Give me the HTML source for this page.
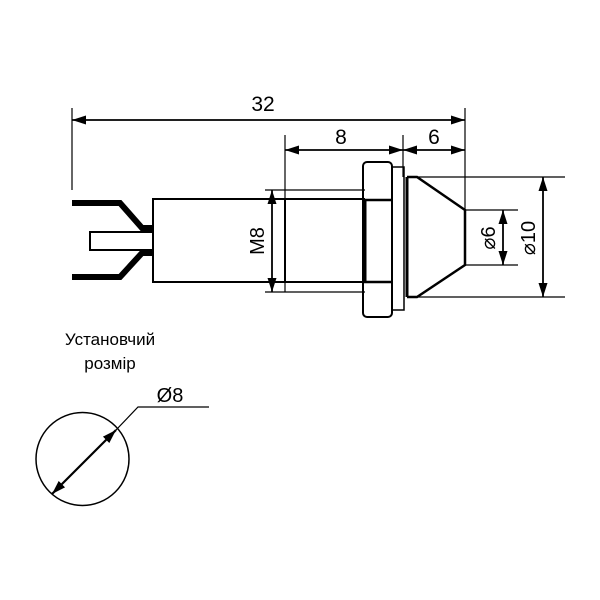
<!DOCTYPE html>
<html><head><meta charset="utf-8"><style>html,body{margin:0;padding:0;background:#fff}svg{display:block}</style></head>
<body>
<svg width="600" height="600" viewBox="0 0 600 600" xmlns="http://www.w3.org/2000/svg" font-family="Liberation Sans, DejaVu Sans, sans-serif">
<defs>
<marker id="a" viewBox="0 0 14 9" refX="14" refY="4.5" markerWidth="14" markerHeight="9" orient="auto-start-reverse" markerUnits="userSpaceOnUse"><path d="M0,0 L14,4.5 L0,9 Z" fill="#000"/></marker>
</defs>
<g stroke="#000" fill="none">
<line x1="72" y1="108" x2="72" y2="190" stroke-width="1.2"/>
<line x1="465" y1="108" x2="465" y2="210" stroke-width="1.2"/>
<line x1="285" y1="135" x2="285" y2="292" stroke-width="1.2"/>
<line x1="403" y1="135" x2="403" y2="177" stroke-width="1.2"/>
<line x1="72" y1="120" x2="465" y2="120" stroke-width="1.8" marker-start="url(#a)" marker-end="url(#a)"/>
<line x1="285" y1="150" x2="403" y2="150" stroke-width="1.8" marker-start="url(#a)" marker-end="url(#a)"/>
<line x1="403" y1="150" x2="465" y2="150" stroke-width="1.8" marker-start="url(#a)" marker-end="url(#a)"/>
<polyline points="72,203 120,203 142,228 153,228" stroke-width="6"/>
<polyline points="72,277 120,277 142,253 153,253" stroke-width="6"/>
<rect x="90" y="232" width="63" height="18" stroke-width="2"/>
<rect x="153" y="199" width="132" height="83" stroke-width="2"/>
<line x1="265" y1="190" x2="365" y2="190" stroke-width="1.2"/>
<line x1="265" y1="292" x2="365" y2="292" stroke-width="1.2"/>
<line x1="285" y1="199" x2="365" y2="199" stroke-width="2"/>
<line x1="285" y1="282" x2="365" y2="282" stroke-width="2"/>
<line x1="272" y1="190" x2="272" y2="292" stroke-width="1.8" marker-start="url(#a)" marker-end="url(#a)"/>
<rect x="363" y="162" width="29" height="155" rx="4" stroke-width="2"/>
<line x1="363" y1="200" x2="392" y2="200" stroke-width="2.5"/>
<line x1="363" y1="282" x2="392" y2="282" stroke-width="2.5"/>
<line x1="365" y1="200" x2="365" y2="282" stroke-width="3"/>
<rect x="392" y="167" width="12" height="143" stroke-width="1.5"/>
<line x1="407" y1="177" x2="407" y2="297" stroke-width="3"/>
<polyline points="407,177 417,177 465,210 465,265 417,297 407,297" stroke-width="2.5"/>
<line x1="417" y1="177" x2="565" y2="177" stroke-width="1.2"/>
<line x1="417" y1="297" x2="565" y2="297" stroke-width="1.2"/>
<line x1="465" y1="210" x2="518" y2="210" stroke-width="1.2"/>
<line x1="465" y1="265" x2="518" y2="265" stroke-width="1.2"/>
<line x1="503" y1="210" x2="503" y2="265" stroke-width="1.8" marker-start="url(#a)" marker-end="url(#a)"/>
<line x1="543" y1="177" x2="543" y2="297" stroke-width="1.8" marker-start="url(#a)" marker-end="url(#a)"/>
<circle cx="82.5" cy="459" r="46.5" stroke-width="1.5"/>
<line x1="52" y1="494" x2="116" y2="430" stroke-width="2.2" marker-start="url(#a)" marker-end="url(#a)"/>
<polyline points="116,430 138,407 209,407" stroke-width="1.2"/>
</g>
<g fill="#000">
<text x="263" y="111" font-size="21" text-anchor="middle">32</text>
<text x="341" y="144" font-size="21" text-anchor="middle">8</text>
<text x="434" y="144" font-size="21" text-anchor="middle">6</text>
<text transform="translate(264,241) rotate(-90)" font-size="20" text-anchor="middle">M8</text>
<text transform="translate(495,238) rotate(-90)" font-size="20" text-anchor="middle">⌀6</text>
<text transform="translate(535,238) rotate(-90)" font-size="20" text-anchor="middle">⌀10</text>
<text x="110" y="345" font-size="17" text-anchor="middle">Установчий</text>
<text x="110" y="369" font-size="17" text-anchor="middle">розмір</text>
<text x="170" y="402" font-size="20" text-anchor="middle">Ø8</text>
</g>
</svg>
</body></html>
